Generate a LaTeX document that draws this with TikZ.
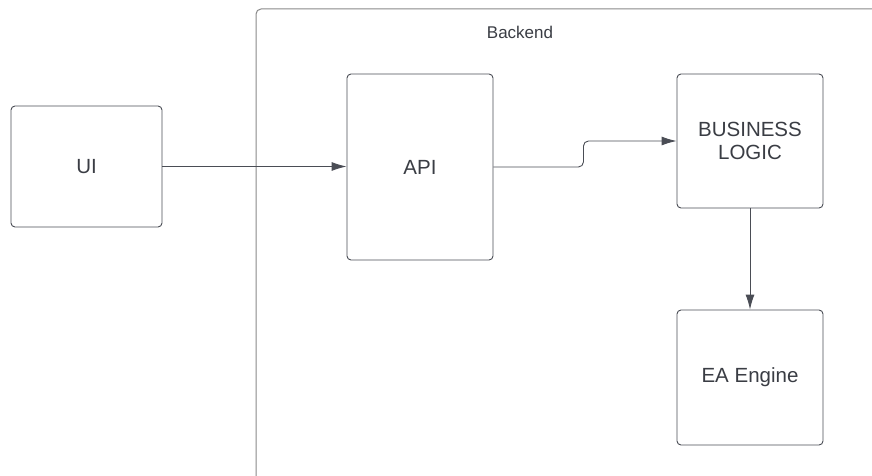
\documentclass[tikz,border=0pt]{standalone}
\usepackage{fontspec}
\setmainfont{Liberation Sans}
\usepackage{tikz}
\usetikzlibrary{positioning,arrows.meta}
\definecolor{linec}{HTML}{4A4D55}
\definecolor{framec}{HTML}{8A8A8A}
\definecolor{textc}{HTML}{3A3D44}
\tikzset{
  blk/.style   = {draw=linec, rounded corners=4pt, align=center,
                  font=\fontsize{20.5}{23.5}\selectfont, text=textc,
                  inner sep=3pt, line width=0.9pt},
  grp/.style   = {draw=framec, rounded corners=5pt, line width=1pt},
  ar/.style    = {-{Latex[length=15pt, width=9pt]}, draw=linec, line width=0.9pt},
  lbl/.style   = {font=\fontsize{17}{20}\selectfont, text=textc, inner sep=1pt},
}
\begin{document}
\begin{tikzpicture}[x=1pt, y=-1pt]
  \clip (0,0) rectangle (872,476);
  \fill[white] (0,0) rectangle (872,476);
  % backend frame runs off the page on the right and bottom
  \node[grp, minimum width=626pt, minimum height=472pt] (backend) at (569,245) {};
  \node[lbl] (backendlbl) at (520,32) {Backend};
  \node[blk, minimum width=151pt, minimum height=121pt] (ui) at (86.5,166.5) {UI};
  \node[blk, minimum width=146pt, minimum height=186pt] (api) at (420,167) {API};
  \node[blk, minimum width=146pt, minimum height=134pt] (logic) at (750,141)
       {BUSINESS\\LOGIC};
  \node[blk, minimum width=146pt, minimum height=135pt] (engine) at (750,377.5)
       {EA Engine};
  \draw[ar] (ui.east) -- (api.west |- ui.east);
  \draw[ar, rounded corners=5pt] (api.east) -- ++(90,0) |- (logic.west);
  \draw[ar] (logic) -- (engine);
\end{tikzpicture}
\end{document}
